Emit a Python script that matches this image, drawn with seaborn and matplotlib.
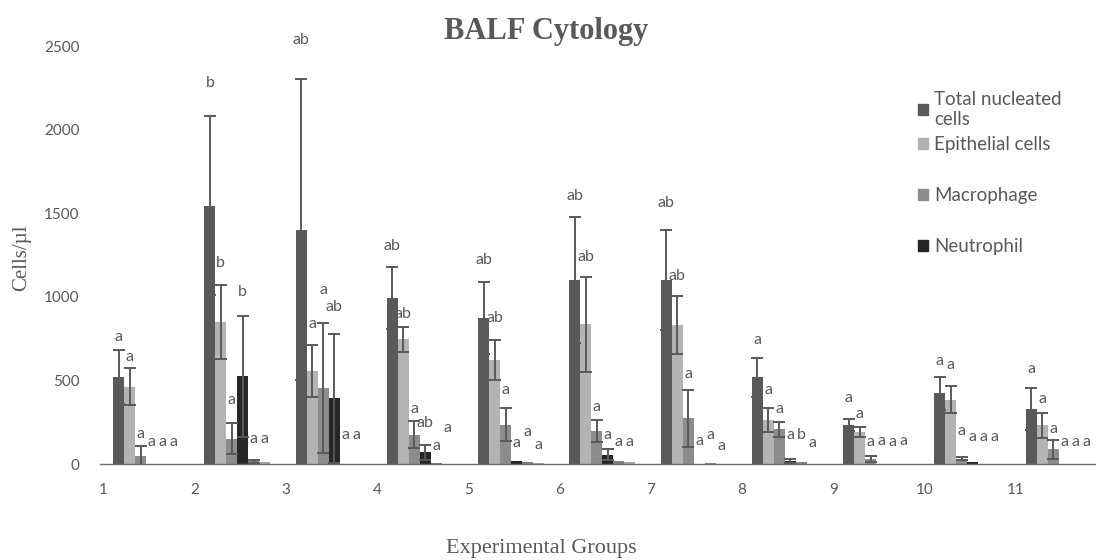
import numpy as np
import pandas as pd
import seaborn as sns
import matplotlib.pyplot as plt
from matplotlib.patches import Patch

# groups and cell types
groups = ['1', '2', '3', '4', '5', '6', '7', '8', '9', '10', '11']
series = ['Total nucleated cells', 'Epithelial cells', 'Macrophage', 'Neutrophil', 'Lymphocyte', 'Eosinophil']

# mean values (cells/ul)
total = [520, 1545, 1400, 995, 875, 1100, 1100, 519, 232, 422, 329]
epithelial = [463, 850, 556, 745, 620, 835, 830, 264, 190, 385, 232]
macrophage = [50, 152, 453, 175, 236, 199, 273, 208, 32, 32, 87]
neutrophil = [0, 524, 394, 69, 15, 54, 0, 17, 0, 13, 0]
lymphocyte = [0, 15, 0, 7, 10, 17, 7, 13, 0, 0, 0]
eosinophil = [0, 12, 0, 0, 8, 13, 0, 0, 0, 0, 0]

# standard deviations
total_sd = [160, 535, 900, 185, 215, 375, 300, 116, 36, 98, 125]
epithelial_sd = [112, 220, 153, 75, 120, 282, 175, 70, 30, 80, 75]
macrophage_sd = [60, 95, 390, 80, 100, 65, 170, 45, 18, 10, 58]
neutrophil_sd = [0, 360, 386, 43, 0, 33, 0, 12, 0, 0, 0]
lymphocyte_sd = [0, 7, 0, 0, 0, 0, 0, 0, 0, 0, 0]
eosinophil_sd = [0, 0, 0, 0, 0, 0, 0, 0, 0, 0, 0]

# significance letters per cell type, and the height they sit at
total_sig = ['a', 'b', 'ab', 'ab', 'ab', 'ab', 'ab', 'a', 'a', 'a', 'a']
epithelial_sig = ['a', 'b', 'a', 'ab', 'ab', 'ab', 'ab', 'a', 'a', 'a', 'a']
macrophage_sig = ['a'] * 11
neutrophil_sig = ['a', 'b', 'ab', 'ab', 'a', 'a', 'a', 'a', 'a', 'a', 'a']
lymphocyte_sig = ['a', 'a', 'a', 'a', 'a', 'a', 'a', 'b', 'a', 'a', 'a']
eosinophil_sig = ['a'] * 11

total_sig_y = [760, 2280, 2535, 1305, 1220, 1600, 1560, 743, 394, 617, 571]
epithelial_sig_y = [640, 1204, 836, 900, 874, 1237, 1122, 440, 301, 593, 388]
macrophage_sig_y = [180, 385, 1043, 329, 440, 342, 540, 329, 134, 199, 208]
neutrophil_sig_y = [134, 1030, 940, 245, 125, 171, 139, 171, 140, 162, 134]
lymphocyte_sig_y = [134, 152, 171, 106, 190, 134, 171, 171, 134, 162, 134]
eosinophil_sig_y = [134, 152, 171, 217, 115, 134, 106, 125, 140, 162, 134]

colors = ['#595959', '#b3b3b3', '#8c8c8c', '#262626', '#7f7f7f', '#a6a6a6']
text_color = '#595959'

means = [total, epithelial, macrophage, neutrophil, lymphocyte, eosinophil]
sds = [total_sd, epithelial_sd, macrophage_sd, neutrophil_sd, lymphocyte_sd, eosinophil_sd]
sigs = [total_sig, epithelial_sig, macrophage_sig, neutrophil_sig, lymphocyte_sig, eosinophil_sig]
sig_ys = [total_sig_y, epithelial_sig_y, macrophage_sig_y, neutrophil_sig_y, lymphocyte_sig_y, eosinophil_sig_y]

# long format table for seaborn
rows = []
for s, vals in zip(series, means):
    for g, v in zip(groups, vals):
        rows.append({'group': g, 'series': s, 'cells': v})
df = pd.DataFrame(rows)

sns.set_style('white')
plt.rcParams['font.family'] = ['Lato', 'DejaVu Sans']

fig = plt.figure(figsize=(10.96, 5.6), dpi=100)
# plot area runs a little past the right edge, like the cropped original
ax = fig.add_axes([100.4 / 1096, 96 / 560, 1004 / 1096, 418 / 560])

sns.barplot(data=df, x='group', y='cells', hue='series', order=groups, hue_order=series,
            palette=colors, width=0.723, saturation=1, errorbar=None, legend=False,
            linewidth=0, ax=ax)

# error bars and letters on top of each bar
bar_containers = list(ax.containers)
for i, cont in enumerate(bar_containers):
    for j, bar in enumerate(cont):
        x = bar.get_x() + bar.get_width() / 2
        if sds[i][j] > 0:
            ax.errorbar(x, means[i][j], yerr=sds[i][j], color='#595959', capsize=4,
                        elinewidth=1.4, capthick=1.4, zorder=3)
        ax.text(x, sig_ys[i][j], sigs[i][j], ha='center', va='center',
                fontsize=11.5, color=text_color, zorder=4)

ax.set_xlim(-0.5, 10.5)
ax.set_ylim(0, 2500)
ax.set_yticks(range(0, 2501, 500))
# group labels sit at the left end of each cluster in the original
ax.set_xticks(np.arange(len(groups)) - 0.47)
ax.set_xticklabels(groups)
ax.set_xlabel('')
ax.set_ylabel('')
ax.tick_params(axis='y', length=0, pad=15, labelsize=11, labelcolor=text_color)
ax.tick_params(axis='x', length=0, pad=14, labelsize=11, labelcolor=text_color)
sns.despine(ax=ax, top=True, right=True, left=True)
ax.spines['bottom'].set_color('#6e6e6e')
ax.spines['bottom'].set_linewidth(1)

# legend shows only the four main cell types, with blank rows as in the original
blank = Patch(facecolor='none', edgecolor='none')
handles = [Patch(color=colors[0]), Patch(color=colors[1]), blank,
           Patch(color=colors[2]), blank, Patch(color=colors[3])]
labels = ['Total nucleated\ncells', 'Epithelial cells', '', 'Macrophage', '', 'Neutrophil']
ax.legend(handles, labels, loc='upper left', bbox_to_anchor=(901 / 1096, 1 - 74 / 560),
          bbox_transform=fig.transFigure, frameon=False, fontsize=13.5,
          handlelength=0.55, handleheight=0.55, handletextpad=0.3, labelspacing=0.45,
          labelcolor=text_color)

fig.text(546 / 1096, 1 - 31 / 560, 'BALF Cytology', ha='center', va='center', fontsize=22,
         fontweight='bold', family='Liberation Serif', color=text_color)
fig.text(22 / 1096, 1 - 258 / 560, 'Cells/µl', rotation=90, ha='center', va='center',
         fontsize=15, family='Liberation Serif', color=text_color)
fig.text(541 / 1096, 1 - 549 / 560, 'Experimental Groups', ha='center', va='center',
         fontsize=16, family='Liberation Serif', color=text_color)

fig.savefig('out.png', dpi=100)
